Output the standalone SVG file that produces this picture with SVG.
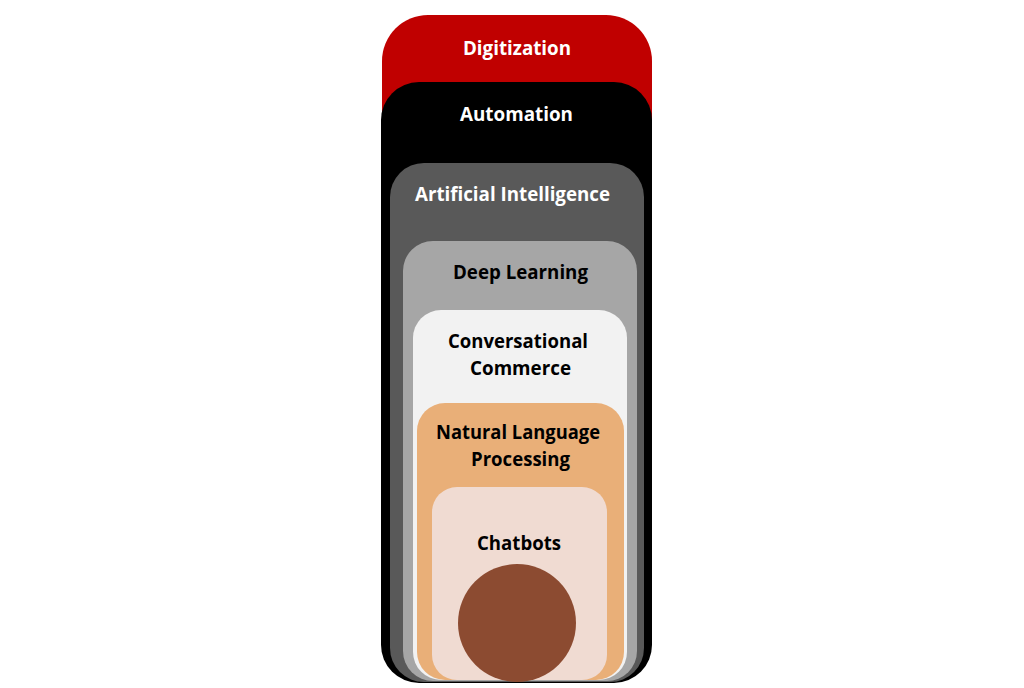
<svg xmlns="http://www.w3.org/2000/svg" width="1024" height="688" viewBox="0 0 1024 688">
<style>
text{font-family:"Open Sans","Liberation Sans",sans-serif;font-weight:bold;font-size:20px;text-anchor:middle}
.w{fill:#ffffff}
.k{fill:#000000}
</style>
<rect width="1024" height="688" fill="#ffffff"/>
<g id="digitization">
<rect x="382" y="15" width="270" height="667" rx="46" fill="#c00000"/>
<text class="w" x="517" y="55" textLength="108" lengthAdjust="spacingAndGlyphs">Digitization</text>
</g>
<g id="automation">
<rect x="381" y="82" width="271" height="601" rx="38" fill="#000000"/>
<text class="w" x="516.5" y="121" textLength="113" lengthAdjust="spacingAndGlyphs">Automation</text>
</g>
<g id="artificial-intelligence">
<rect x="390" y="163" width="254" height="519" rx="34" fill="#595959"/>
<text class="w" x="512.5" y="201" textLength="195" lengthAdjust="spacingAndGlyphs">Artificial Intelligence</text>
</g>
<g id="deep-learning">
<rect x="403" y="241" width="234" height="440" rx="30" fill="#a6a6a6"/>
<text class="k" x="520.5" y="279" textLength="135" lengthAdjust="spacingAndGlyphs">Deep Learning</text>
</g>
<g id="conversational-commerce">
<rect x="413" y="310" width="214" height="370" rx="28" fill="#f2f2f2"/>
<text class="k" x="518" y="348" textLength="140" lengthAdjust="spacingAndGlyphs">Conversational</text>
<text class="k" x="520.5" y="375" textLength="101" lengthAdjust="spacingAndGlyphs">Commerce</text>
</g>
<g id="nlp">
<rect x="417" y="403" width="207" height="277" rx="28" fill="#e9af78"/>
<text class="k" x="518" y="439" textLength="164" lengthAdjust="spacingAndGlyphs">Natural Language</text>
<text class="k" x="520.5" y="466" textLength="99" lengthAdjust="spacingAndGlyphs">Processing</text>
</g>
<g id="chatbots">
<rect x="432" y="487" width="175" height="193" rx="25" fill="#f0dbd2"/>
<text class="k" x="519" y="550" textLength="84" lengthAdjust="spacingAndGlyphs">Chatbots</text>
<circle cx="517" cy="623" r="59" fill="#8c4b31"/>
</g>
<g id="connectors"/>
</svg>
